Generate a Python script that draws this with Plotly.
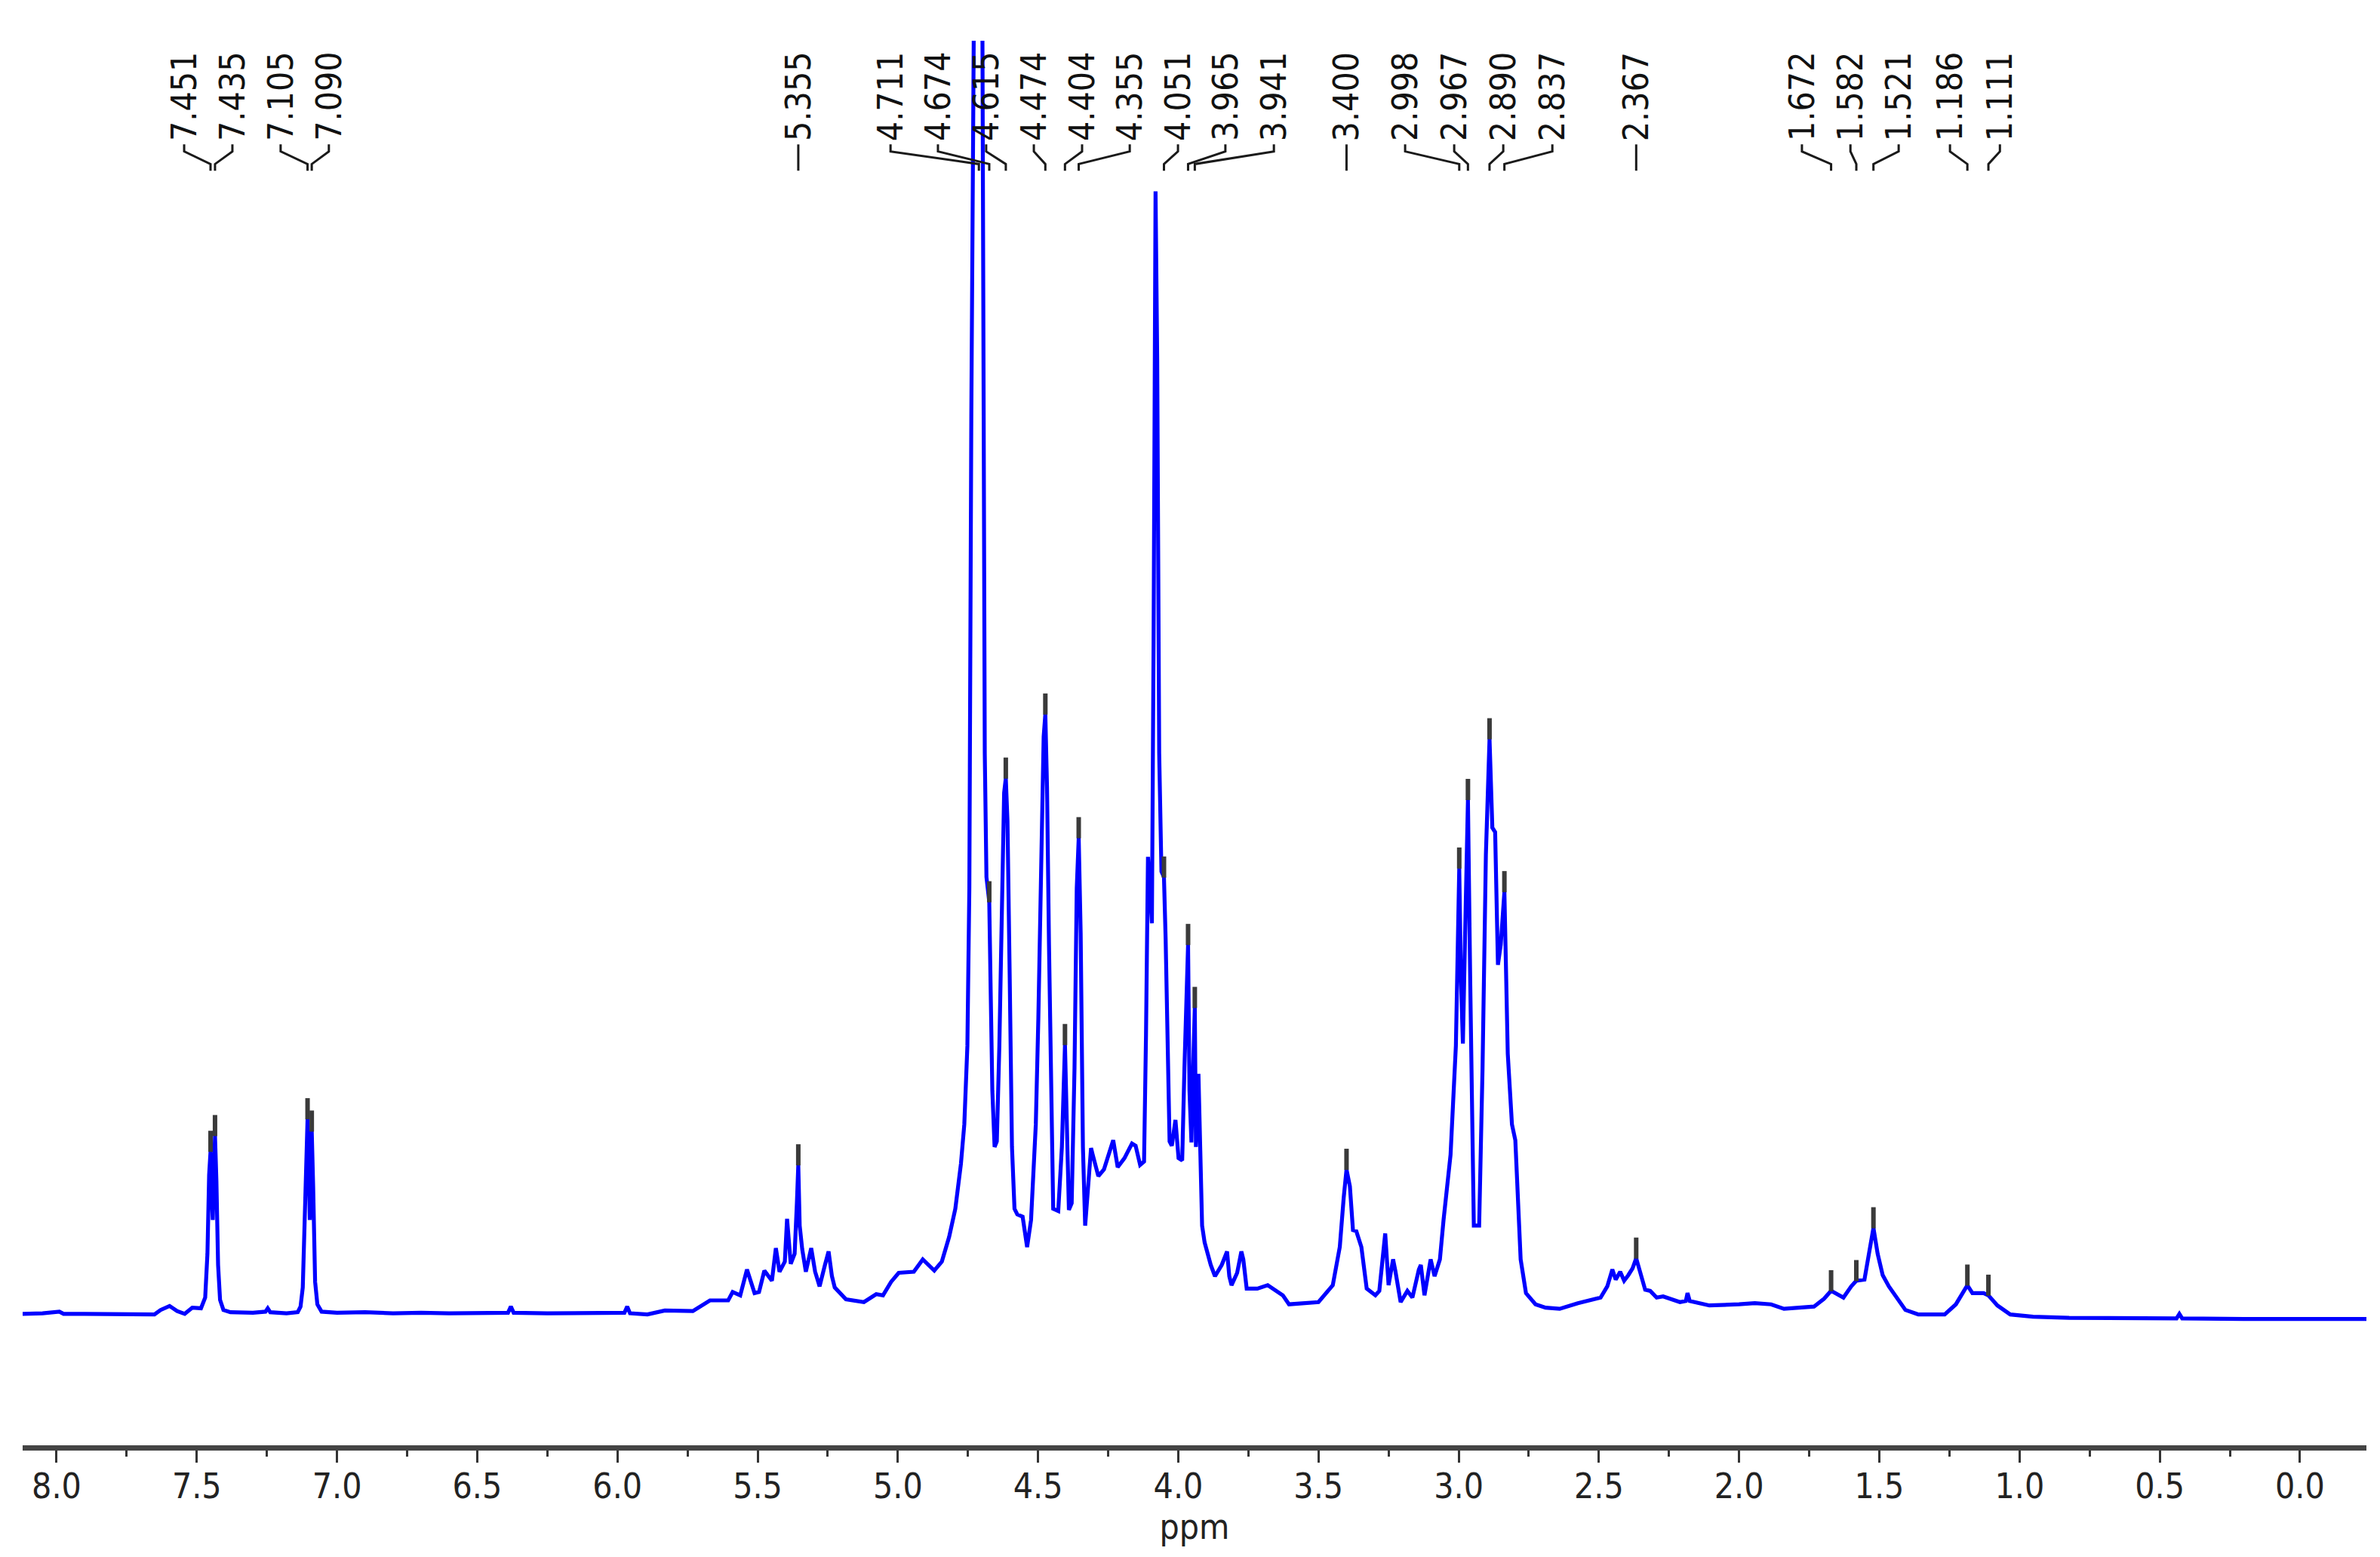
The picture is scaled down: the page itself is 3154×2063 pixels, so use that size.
import plotly.graph_objects as go

# ---------------- data ----------------
ppm = [8.121, 8.05, 7.99, 7.975, 7.90, 7.80, 7.70, 7.651, 7.629, 7.597, 7.570, 7.543, 7.516, 7.485,
       7.470, 7.462, 7.456, 7.451, 7.447, 7.443, 7.439, 7.435, 7.430, 7.424, 7.417, 7.405, 7.38,
       7.30, 7.255, 7.247, 7.238, 7.18, 7.14, 7.130, 7.122, 7.114, 7.105, 7.100, 7.097, 7.094,
       7.090, 7.085, 7.078, 7.070, 7.055, 7.00, 6.90, 6.80, 6.70, 6.60, 6.50, 6.39, 6.38, 6.37,
       6.25, 6.10, 5.975, 5.965, 5.955, 5.893, 5.831, 5.731, 5.670, 5.605, 5.589, 5.562, 5.538,
       5.511, 5.495, 5.476, 5.449, 5.435, 5.422, 5.403, 5.395, 5.382, 5.368, 5.360, 5.355, 5.350,
       5.341, 5.328, 5.309, 5.295, 5.279, 5.260, 5.247, 5.235, 5.225, 5.185, 5.121, 5.077, 5.053,
       5.024, 4.997, 4.943, 4.911, 4.870, 4.843, 4.817, 4.795, 4.775, 4.763, 4.752, 4.745, 4.738,
       4.730, 4.720, 4.711, 4.703, 4.696, 4.690, 4.684, 4.678, 4.674, 4.669, 4.663, 4.655, 4.647,
       4.638, 4.628, 4.621, 4.615, 4.609, 4.601, 4.593, 4.584, 4.574, 4.555, 4.545, 4.539, 4.525,
       4.508, 4.499, 4.488, 4.480, 4.474, 4.468, 4.461, 4.452, 4.446, 4.428, 4.415, 4.404, 4.397,
       4.390, 4.380, 4.370, 4.362, 4.355, 4.348, 4.340, 4.332, 4.322, 4.311, 4.305, 4.285, 4.265,
       4.252, 4.232, 4.216, 4.192, 4.165, 4.152, 4.136, 4.122, 4.115, 4.108, 4.101, 4.094, 4.088,
       4.081, 4.075, 4.068, 4.060, 4.051, 4.045, 4.040, 4.031, 4.023, 4.010, 3.999, 3.986, 3.978,
       3.965, 3.960, 3.953, 3.947, 3.941, 3.937, 3.932, 3.928, 3.915, 3.906, 3.884, 3.869, 3.845,
       3.826, 3.818, 3.810, 3.790, 3.775, 3.768, 3.756, 3.740, 3.718, 3.681, 3.650, 3.627, 3.605,
       3.546, 3.500, 3.449, 3.424, 3.410, 3.400, 3.388, 3.377, 3.365, 3.347, 3.328, 3.297, 3.283,
       3.262, 3.250, 3.234, 3.226, 3.207, 3.183, 3.165, 3.142, 3.135, 3.122, 3.100, 3.086, 3.067,
       3.054, 3.029, 3.010, 2.998, 2.992, 2.985, 2.977, 2.967, 2.959, 2.953, 2.946, 2.927, 2.915,
       2.903, 2.890, 2.880, 2.870, 2.860, 2.850, 2.837, 2.832, 2.825, 2.810, 2.798, 2.779, 2.760,
       2.726, 2.690, 2.640, 2.575, 2.494, 2.470, 2.452, 2.440, 2.424, 2.410, 2.395, 2.380, 2.367,
       2.346, 2.335, 2.317, 2.294, 2.271, 2.211, 2.190, 2.184, 2.176, 2.106, 2.000, 1.944, 1.886,
       1.840, 1.733, 1.697, 1.672, 1.628, 1.600, 1.582, 1.553, 1.535, 1.521, 1.506, 1.488, 1.466,
       1.442, 1.407, 1.361, 1.267, 1.227, 1.186, 1.168, 1.128, 1.111, 1.079, 1.033, 0.952, 0.823,
       0.60, 0.44, 0.43, 0.42, 0.20, 0.00, -0.237]

intensity = [0.15, 0.2, 0.35, 0.15, 0.15, 0.1, 0.1, 0.1, 0.5, 0.85, 0.4, 0.15, 0.7, 0.65,
             1.6, 5.5, 12.5, 14.6, 11.0, 8.5, 12.5, 16.0, 12.0, 4.5, 1.4, 0.5, 0.3,
             0.25, 0.35, 0.65, 0.3, 0.2, 0.3, 0.8, 2.5, 9.5, 17.5, 12.5, 8.5, 11.5,
             16.4, 11.5, 3.0, 1.0, 0.35, 0.25, 0.3, 0.2, 0.25, 0.2, 0.25, 0.25, 0.8, 0.25,
             0.2, 0.25, 0.25, 0.8, 0.2, 0.1, 0.45, 0.4, 1.35, 1.35, 2.1, 1.8, 4.1,
             2.0, 2.1, 4.0, 3.1, 6.0, 3.9, 4.8, 8.6, 4.6, 5.5, 10.0, 13.4, 8.0,
             5.9, 3.9, 6.0, 3.9, 2.6, 4.5, 5.7, 3.5, 2.5, 1.45, 1.2, 1.9, 1.8,
             3.0, 3.8, 3.9, 5.0, 4.0, 4.8, 7.0, 9.5, 13.5, 17.0, 24.0, 38.0, 80.0,
             140.0, 175.0, 185.0, 150.0, 90.0, 50.0, 39.0, 37.5, 36.8, 29.0, 20.0, 15.0, 15.5,
             24.0, 40.0, 46.5, 47.8, 44.0, 30.0, 15.0, 9.5, 9.0, 8.8, 7.0, 6.1, 8.5,
             17.0, 26.4, 42.0, 51.5, 53.5, 47.0, 33.0, 15.0, 9.5, 9.3, 15.0, 24.1, 15.0,
             9.4, 10.0, 22.0, 38.0, 42.5, 34.0, 15.0, 8.0, 11.0, 14.9, 14.3, 12.4, 13.0,
             14.1, 15.6, 13.2, 14.0, 15.3, 15.1, 13.4, 13.7, 25.0, 40.8, 38.0, 34.9, 60.0,
             100.0, 85.0, 50.0, 39.5, 39.0, 33.5, 25.0, 15.5, 15.1, 17.4, 14.0, 13.8, 22.0,
             33.0, 20.0, 15.4, 22.0, 27.4, 15.0, 19.5, 21.5, 8.0, 6.5, 4.5, 3.5, 4.5,
             5.7, 3.5, 2.7, 3.8, 5.7, 5.0, 2.4, 2.4, 2.4, 2.7, 2.2, 1.8, 1.0,
             1.1, 1.2, 2.7, 6.1, 10.5, 13.0, 11.5, 7.6, 7.5, 6.1, 2.4, 1.8, 2.2,
             7.3, 2.7, 5.0, 4.0, 1.2, 2.2, 1.6, 4.1, 4.5, 1.8, 5.0, 3.5, 5.0,
             8.5, 14.3, 24.0, 39.8, 30.0, 24.2, 34.0, 45.9, 30.0, 18.0, 8.0, 8.0, 21.9,
             41.0, 51.3, 43.4, 43.0, 31.2, 33.0, 37.7, 31.0, 23.3, 17.0, 15.6, 5.0, 2.0,
             1.0, 0.7, 0.6, 1.1, 1.6, 2.6, 4.1, 3.2, 3.9, 3.1, 3.6, 4.2, 5.1,
             3.2, 2.3, 2.2, 1.6, 1.7, 1.2, 1.3, 2.0, 1.3, 0.9, 1.0, 1.1, 1.0,
             0.6, 0.8, 1.5, 2.2, 1.6, 2.6, 3.1, 3.2, 6.0, 7.8, 5.5, 3.6, 2.6,
             1.8, 0.5, 0.1, 0.1, 1.0, 2.7, 2.0, 2.0, 1.8, 0.9, 0.1, -0.1, -0.2,
             -0.25, -0.25, 0.15, -0.25, -0.3, -0.3, -0.3]

peak_labels = ["7.451", "7.435", "7.105", "7.090", "5.355", "4.711", "4.674", "4.615", "4.474",
               "4.404", "4.355", "4.051", "3.965", "3.941", "3.400", "2.998", "2.967", "2.890",
               "2.837", "2.367", "1.672", "1.582", "1.521", "1.186", "1.111"]
label_ppm = [7.545, 7.373, 7.201, 7.029, 5.355, 5.026, 4.857, 4.685, 4.515,
             4.343, 4.173, 4.001, 3.832, 3.659, 3.400, 3.191, 3.016, 2.841,
             2.666, 2.367, 1.776, 1.603, 1.431, 1.248, 1.070]
peak_height = [14.6, 16.0, 17.5, 16.4, 13.4, 185.0, 36.8, 47.8, 53.5,
               24.1, 42.5, 39.0, 33.0, 27.4, 13.0, 39.8, 45.9, 51.3,
               37.7, 5.1, 2.2, 3.1, 7.8, 2.7, 1.8]

x_ticks = [8.0, 7.5, 7.0, 6.5, 6.0, 5.5, 5.0, 4.5, 4.0, 3.5, 3.0, 2.5, 2.0, 1.5, 1.0, 0.5, 0.0]

# ---------------- figure ----------------
W, H = 3154, 2063
ML, MR, MT, MB = 22, 26, 46, 156

peak_ppm = [float(s) for s in peak_labels]

fig = go.Figure()
fig.add_trace(go.Scatter(x=ppm, y=intensity, mode="lines",
                         line=dict(color="#0000ff", width=5.2),
                         hoverinfo="skip"))

# peak-pick ticks on top of the peaks
fig.add_trace(go.Scatter(x=peak_ppm, y=[h + 0.9 for h in peak_height], mode="markers",
                         marker=dict(symbol="line-ns", size=20,
                                     line=dict(width=6, color="#3a3a3a")),
                         hoverinfo="skip"))

# label connectors (y in fraction of plot height on a hidden overlay axis)
Y_TOP, Y_B1, Y_B2, Y_BOT = 0.9262, 0.9212, 0.9122, 0.9075
cx, cy = [], []
for lp, pk in zip(label_ppm, peak_ppm):
    cx += [lp, lp, pk, pk, None]
    cy += [Y_TOP, Y_B1, Y_B2, Y_BOT, None]
fig.add_trace(go.Scatter(x=cx, y=cy, yaxis="y2", mode="lines",
                         line=dict(color="#1a1a1a", width=3), hoverinfo="skip"))

label_font = dict(family="DejaVu Sans Condensed, DejaVu Sans", size=46, color="#111111")
for txt, lp in zip(peak_labels, label_ppm):
    fig.add_annotation(x=lp, y=0.928, xref="x", yref="paper", text=txt, textangle=-90,
                       showarrow=False, xanchor="center", yanchor="bottom",
                       font=label_font, borderpad=0)

tick_font = dict(family="Liberation Sans Narrow, DejaVu Sans Condensed, sans-serif",
                 size=46, color="#222222")
fig.update_layout(
    width=W, height=H,
    margin=dict(l=ML, r=MR, t=MT, b=MB),
    paper_bgcolor="white", plot_bgcolor="white",
    showlegend=False,
    xaxis=dict(range=[8.121, -0.237], showgrid=False, zeroline=False,
               showline=True, linecolor="#444444", linewidth=7,
               ticks="outside", ticklen=16, tickwidth=3, tickcolor="#333333",
               tickvals=x_ticks, ticktext=[f"{v:.1f}" for v in x_ticks],
               tickfont=tick_font, ticklabelstandoff=-8,
               minor=dict(dtick=0.25, tick0=0, ticks="outside", ticklen=8,
                          tickwidth=3, tickcolor="#333333", showgrid=False),
               title=dict(text="ppm", font=tick_font, standoff=2)),
    yaxis=dict(range=[-11.54, 113.4], visible=False, showgrid=False, zeroline=False),
    yaxis2=dict(range=[0, 1], overlaying="y", visible=False, showgrid=False,
                zeroline=False),
)

fig.write_html("out.html")
